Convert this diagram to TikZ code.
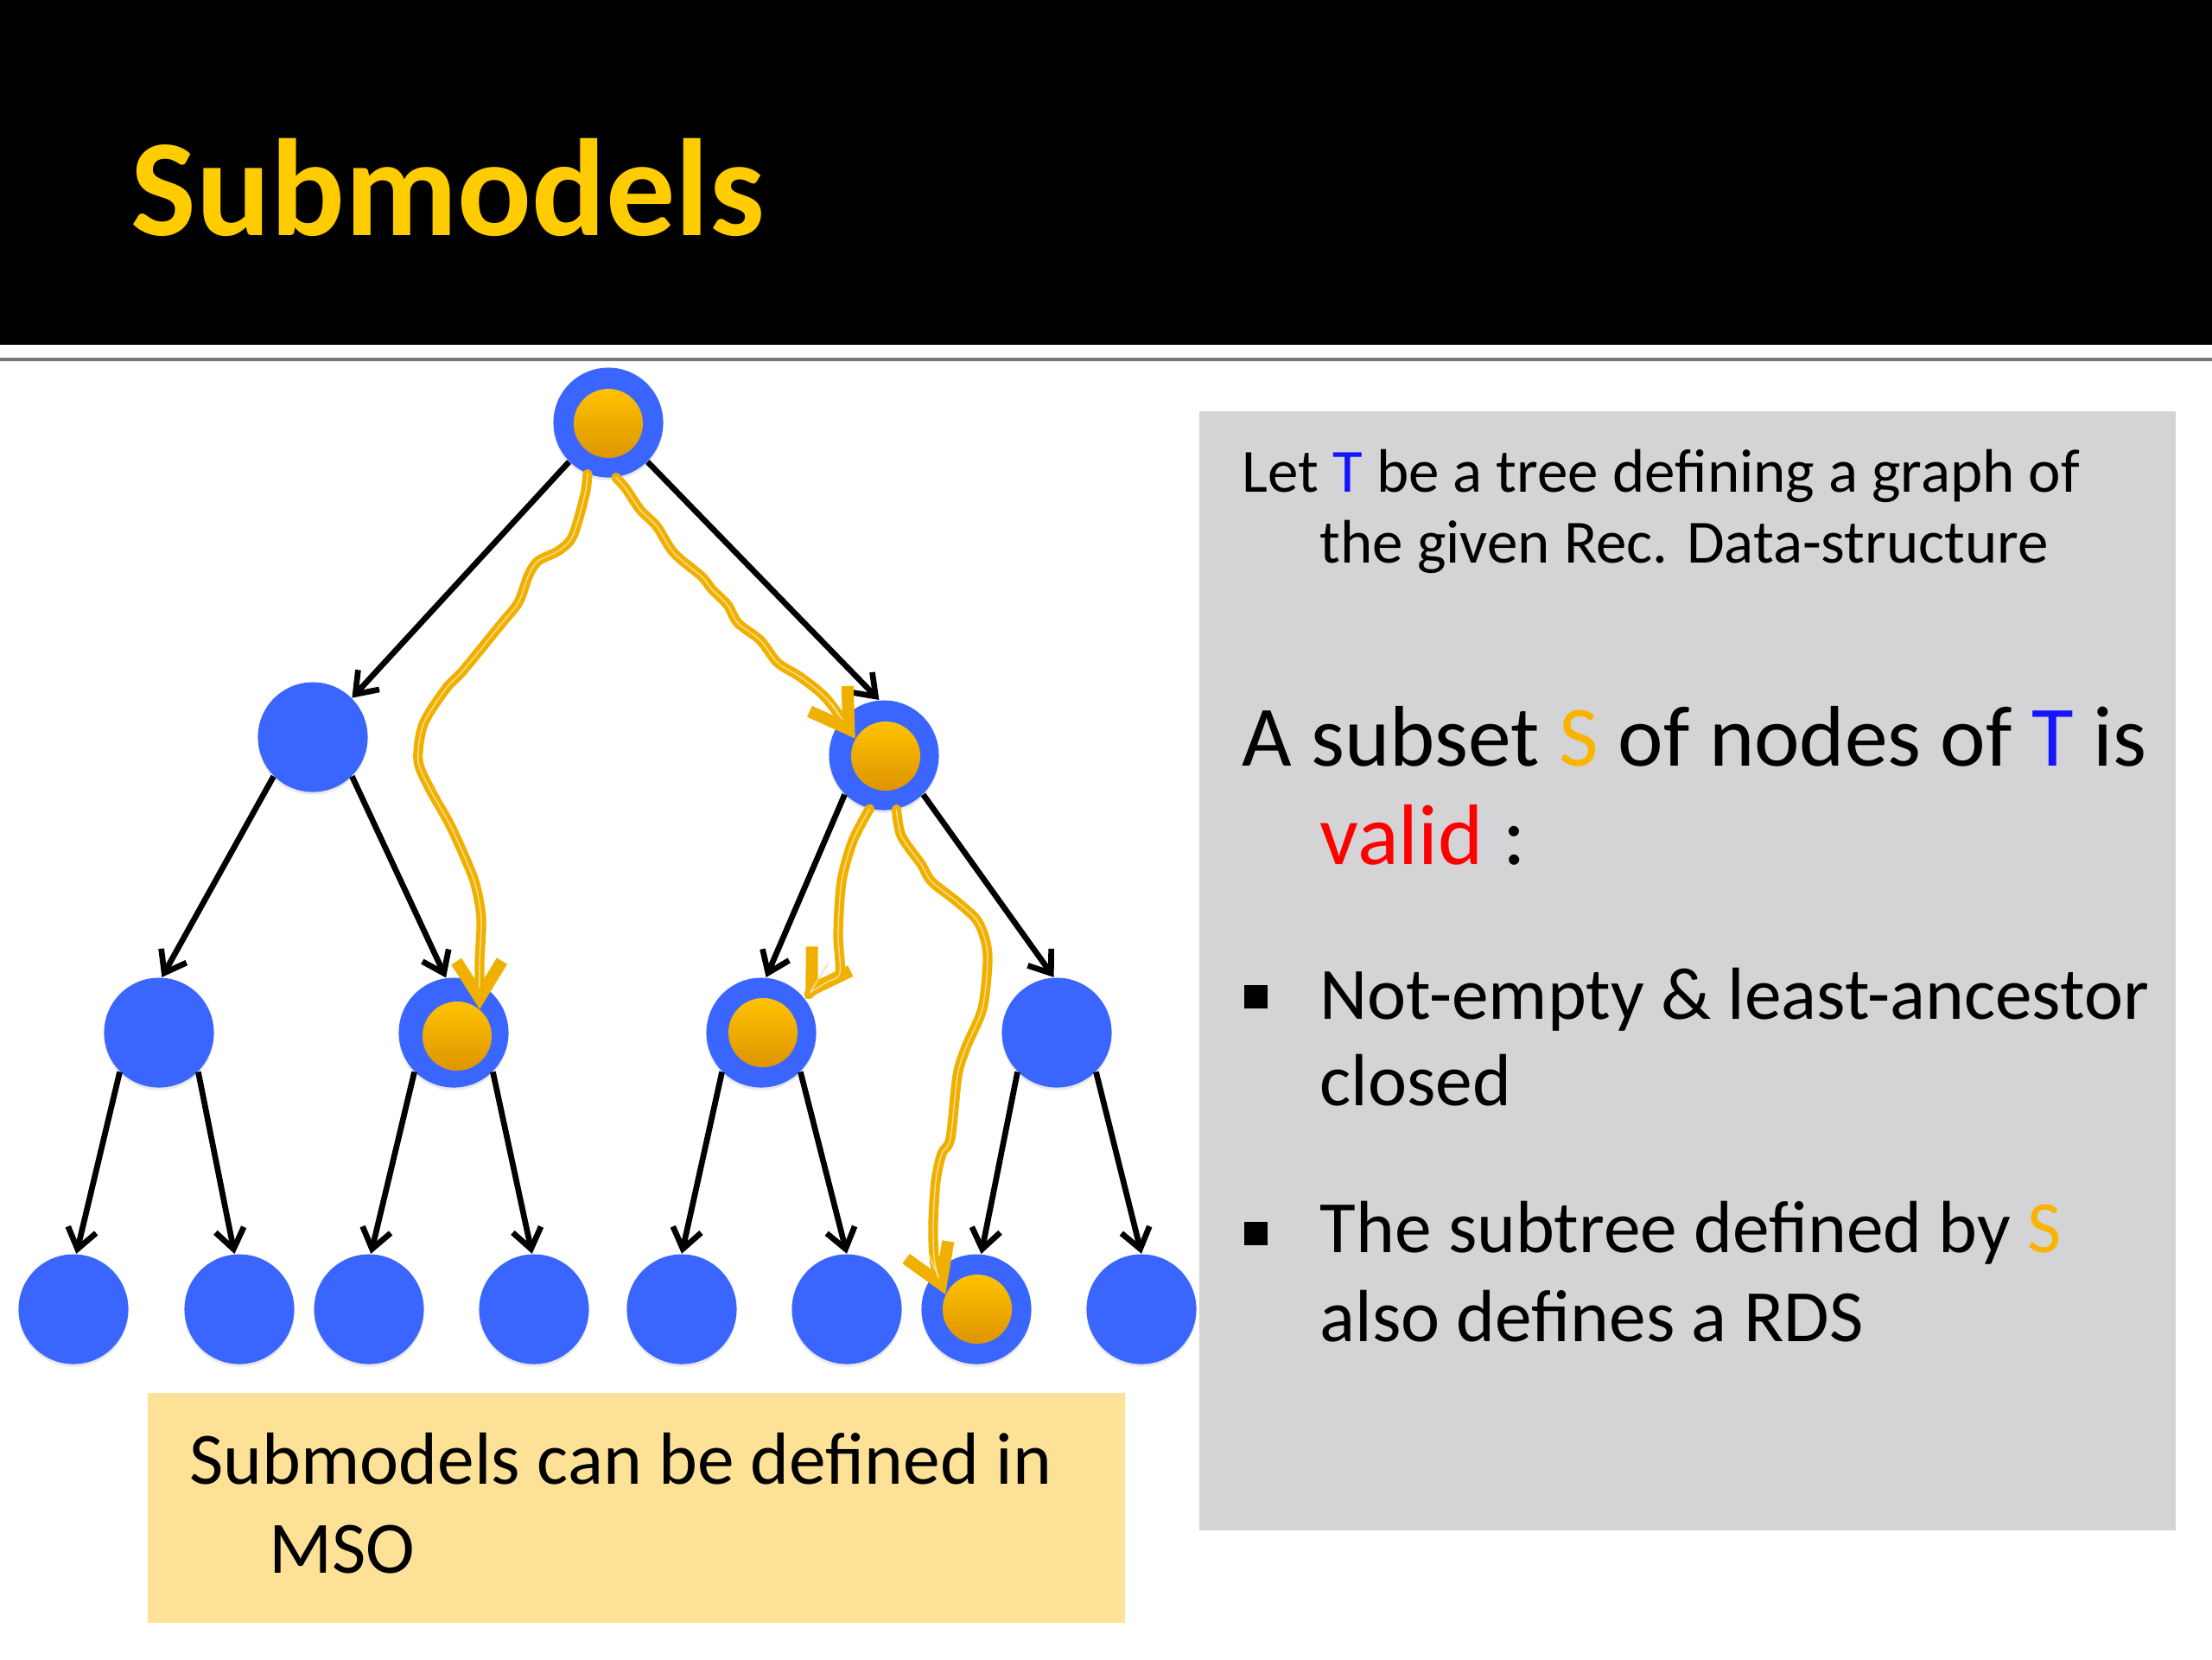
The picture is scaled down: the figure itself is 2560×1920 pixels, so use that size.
\documentclass[tikz,border=0pt]{standalone}
\usepackage{fontspec}
\setmainfont{Carlito}
\usetikzlibrary{arrows.meta,shadows}
\definecolor{nodeblue}{RGB}{58,102,255}
\definecolor{orgtop}{RGB}{255,194,0}
\definecolor{orgbot}{RGB}{222,148,0}
\definecolor{goldline}{RGB}{240,176,0}
\definecolor{goldlight}{RGB}{248,222,150}
\definecolor{titleyellow}{RGB}{255,204,0}
\definecolor{txtblue}{RGB}{20,20,255}
\definecolor{txtgold}{RGB}{250,180,0}
\definecolor{txtred}{RGB}{255,0,0}
\definecolor{boxgray}{RGB}{212,212,214}
\definecolor{boxyellow}{RGB}{253,225,150}
\definecolor{sepgray}{RGB}{120,120,120}
\begin{document}
\begin{tikzpicture}[x=0.01cm,y=-0.01cm,
  tnode/.style={circle,fill=nodeblue,minimum size=1.27cm,inner sep=0pt,
     drop shadow={shadow xshift=0pt,shadow yshift=-0.9pt,opacity=0.18}},
  tin/.style={circle,top color=orgtop,bottom color=orgbot,minimum size=0.80cm,inner sep=0pt},
  edgearrow/.style={draw=black,line width=1.9pt,-{Straight Barb[length=6.5pt,width=9.5pt]}},
  goldpath/.style={draw=goldline,line width=3.2pt,line cap=round,line join=round,
     -{Straight Barb[length=12pt,width=15pt,line width=4pt]},
     postaction={draw=goldlight,line width=0.4pt,shorten >=14pt,-}},
  txt/.style={anchor=base west,inner sep=0pt},
  fsmall/.style={font=\fontsize{20.2pt}{24pt}\selectfont},
  fbig/.style={font=\fontsize{28.3pt}{33pt}\selectfont},
  fmid/.style={font=\fontsize{24.3pt}{29pt}\selectfont},
  bsq/.style={fill=black,minimum size=0.27cm,inner sep=0pt}
]
\useasboundingbox (0,0) rectangle (2560,1920);
\fill[white] (0,0) rectangle (2560,1920);
% header
\fill[black] (0,0) rectangle (2560,399);
\draw[sepgray,line width=1.2pt] (0,416) -- (2560,416);
\node[txt,text=titleyellow,font=\fontsize{45.5pt}{50pt}\selectfont\bfseries] (title) at (151,272) {Submodels};

% boxes
\node[fill=boxgray,minimum width=11.30cm,minimum height=12.95cm,inner sep=0pt,anchor=north west] (graybox) at (1387,475) {};
\node[fill=boxyellow,minimum width=11.31cm,minimum height=2.66cm,inner sep=0pt,anchor=north west] (ybox) at (170,1611) {};

% tree nodes
\node[tnode] (root) at (704,489) {};
\node[tnode] (l1a) at (362,853) {};
\node[tnode] (l1b) at (1023,874) {};
\node[tnode] (l2a) at (184,1195) {};
\node[tnode] (l2b) at (525,1195) {};
\node[tnode] (l2c) at (881,1195) {};
\node[tnode] (l2d) at (1223,1195) {};
\node[tnode] (f1) at (85,1515) {};
\node[tnode] (f2) at (277,1515) {};
\node[tnode] (f3) at (427,1515) {};
\node[tnode] (f4) at (618,1515) {};
\node[tnode] (f5) at (789,1515) {};
\node[tnode] (f6) at (980,1515) {};
\node[tnode] (f7) at (1130,1515) {};
\node[tnode] (f8) at (1321,1515) {};
% inner orange
\node[tin] (rootin) at (704,490) {};
\node[tin] (l1bin) at (1025,875) {};
\node[tin] (l2bin) at (529,1199) {};
\node[tin] (l2cin) at (883,1195) {};
\node[tin] (f7in) at (1131,1515) {};

% edges
\draw[edgearrow] (root.-135) -- (l1a.45);
\draw[edgearrow] (root.-45) -- (l1b.95);
\draw[edgearrow] (l1a.-135) -- (l2a.87);
\draw[edgearrow] (l1a.-45) -- (l2b.98);
\draw[edgearrow] (l1b.-135) -- (l2c.85);
\draw[edgearrow] (l1b.-45) -- (l2d.93);
\draw[edgearrow] (l2a.-135) -- (f1.87);
\draw[edgearrow] (l2a.-45) -- (f2.95);
\draw[edgearrow] (l2b.-135) -- (f3.88);
\draw[edgearrow] (l2b.-45) -- (f4.92);
\draw[edgearrow] (l2c.-135) -- (f5.90);
\draw[edgearrow] (l2c.-45) -- (f6.90);
\draw[edgearrow] (l2d.-135) -- (f7.85);
\draw[edgearrow] (l2d.-45) -- (f8.90);

% gold paths
\draw[goldpath] plot[smooth,tension=0.5] coordinates {(root.-112) (677,572) (663,620) (647,637) (623,649) (612,665) (600,697) (580,722) (536,776) (516,797) (490,838) (484,880) (497,912) (520,953) (537,990) (550,1023) (557,1063) (555,1113) (l2bin.50)};
\draw[goldpath] plot[smooth,tension=0.5] coordinates {(root.-82) (724,565) (741,590) (760,609) (780,640) (812,667) (824,682) (842,700) (854,721) (880,741) (900,767) (927,784) (957,809) (l1bin.150)};
\draw[goldpath] plot[smooth,tension=0.5] coordinates {(l1b.-105) (987,973) (974,1020) (970,1080) (972,1126) (958,1136) (940,1147) (l2c.37)};
\draw[goldpath] plot[smooth,tension=0.5] coordinates {(l1b.-77) (1043,967) (1066,1000) (1078,1020) (1107,1043) (1130,1064) (1140,1087) (1143,1113) (1137,1167) (1118,1212) (1108,1245) (1100,1317) (1090,1335) (1083,1367) (1080,1417) (1082,1462) (f7in.155)};

% right box text
\node[txt,fsmall] (let1) at (1437,569) {Let \textcolor{txtblue}{T} be a tree defining a graph of};
\node[txt,fsmall] (let2) at (1527,651) {the given Rec. Data-structure};
\node[txt,fbig] (sub1) at (1437,886) {A subset \textcolor{txtgold}{S} of nodes of \textcolor{txtblue}{T} is};
\node[txt,fbig] (sub2) at (1527,1000) {\textcolor{txtred}{valid} :};
\node[bsq] (bq1) at (1453,1153) {};
\node[txt,fmid] (b1a) at (1527,1179) {Not-empty \& least-ancestor};
\node[txt,fmid] (b1b) at (1527,1279) {closed};
\node[bsq] (bq2) at (1453,1427) {};
\node[txt,fmid] (b2a) at (1527,1449) {The subtree defined by \textcolor{txtgold}{S}};
\node[txt,fmid] (b2b) at (1527,1552) {also defines a RDS};

% yellow box text
\node[txt,font=\fontsize{24.3pt}{29pt}\selectfont] (y1) at (219,1717) {Submodels can be defined in};
\node[txt,font=\fontsize{24.3pt}{29pt}\selectfont] (y2) at (311,1820) {MSO};
\end{tikzpicture}
\end{document}
